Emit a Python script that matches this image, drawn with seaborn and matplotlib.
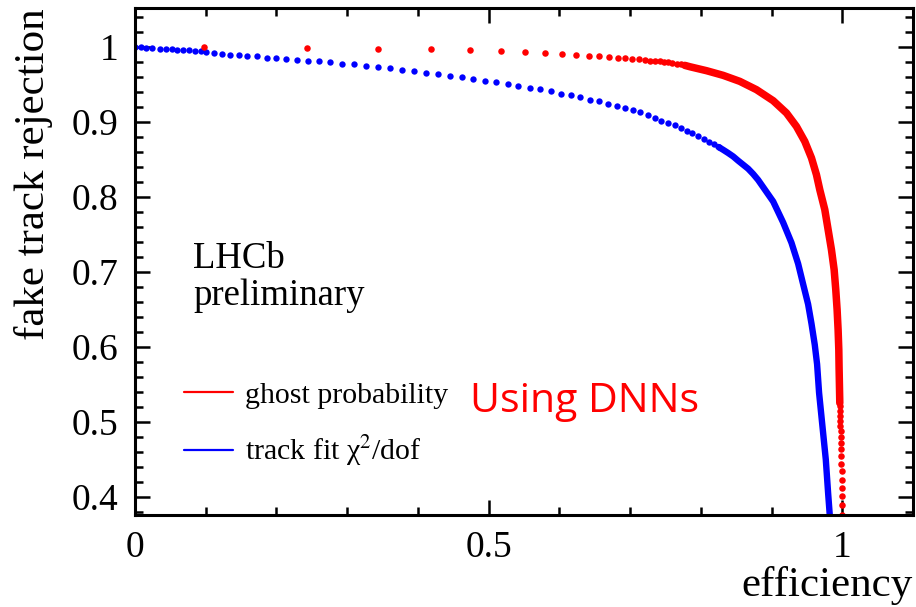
import matplotlib
matplotlib.use("Agg")
import matplotlib.pyplot as plt
import pandas as pd
import seaborn as sns
from matplotlib.lines import Line2D
from matplotlib.ticker import MultipleLocator, FormatStrFormatter

# track fit chi2/dof: sparse dots, then the dense part drawn as a thick line
chi2_dot_x = [0.0, 0.008, 0.016, 0.024, 0.035, 0.044, 0.052, 0.060, 0.068, 0.076, 0.085, 0.093,
              0.101, 0.112, 0.123, 0.135, 0.147, 0.159, 0.172, 0.186, 0.200, 0.214,
              0.229, 0.244, 0.260, 0.276, 0.293, 0.309, 0.326, 0.344, 0.360, 0.377,
              0.394, 0.411, 0.429, 0.445, 0.462, 0.478, 0.495, 0.511, 0.527, 0.542,
              0.558, 0.573, 0.588, 0.602, 0.616, 0.629, 0.643, 0.656, 0.669, 0.681,
              0.693, 0.704, 0.714, 0.725, 0.735, 0.744, 0.754, 0.763, 0.772, 0.780,
              0.788, 0.796, 0.804, 0.811, 0.818, 0.825]
chi2_dot_y = [1.000, 0.9995, 0.999, 0.9985, 0.998, 0.9973, 0.997, 0.9964, 0.996, 0.9955, 0.995, 0.9942,
              0.993, 0.992, 0.991, 0.990, 0.989, 0.988, 0.9875, 0.986, 0.985, 0.984,
              0.983, 0.982, 0.981, 0.980, 0.978, 0.977, 0.975, 0.973, 0.9715, 0.970,
              0.968, 0.966, 0.964, 0.962, 0.9595, 0.957, 0.955, 0.953, 0.9505, 0.948,
              0.946, 0.9435, 0.941, 0.938, 0.9355, 0.933, 0.930, 0.9275, 0.924, 0.922,
              0.919, 0.9155, 0.913, 0.9092, 0.905, 0.902, 0.899, 0.8955, 0.892, 0.888,
              0.885, 0.881, 0.8777, 0.874, 0.8706, 0.8667]
chi2_line_x = [0.825, 0.8315, 0.8386, 0.8457, 0.8528, 0.8598, 0.8669, 0.874, 0.881,
               0.9023, 0.9164, 0.9282, 0.9376, 0.9446, 0.9517, 0.9565, 0.9611, 0.9644,
               0.9672, 0.972, 0.9767, 0.980, 0.9823]
chi2_line_y = [0.8667, 0.863, 0.8587, 0.8541, 0.8484, 0.8431, 0.8377, 0.8307, 0.8228,
               0.794, 0.766, 0.739, 0.711, 0.684, 0.657, 0.631, 0.603, 0.577,
               0.539, 0.494, 0.450, 0.405, 0.376]

# ghost probability
ghost_dot_x = [0.0975, 0.2426, 0.3439, 0.4179, 0.4735, 0.5169, 0.5517, 0.580, 0.6035,
               0.6233, 0.6413, 0.6563, 0.670, 0.6823, 0.6931, 0.703, 0.712, 0.7205,
               0.728, 0.735, 0.7417, 0.7478, 0.7538, 0.7595, 0.7657, 0.7714, 0.7774]
ghost_dot_y = [1.000, 0.9987, 0.9977, 0.9968, 0.9955, 0.9942, 0.9928, 0.9915, 0.9902,
               0.9893, 0.9884, 0.9875, 0.9867, 0.9857, 0.9848, 0.984, 0.9835, 0.9826,
               0.9817, 0.9813, 0.9808, 0.980, 0.9795, 0.9786, 0.9777, 0.9768, 0.9755]
ghost_line_x = [0.7774, 0.7845, 0.8081, 0.8316, 0.8551, 0.8787, 0.9023, 0.9211, 0.9352,
                0.947, 0.9565, 0.9635, 0.9682, 0.9753, 0.980, 0.9847, 0.9885, 0.9908,
                0.9927, 0.9941, 0.9951, 0.9955, 0.9965]
ghost_line_y = [0.9755, 0.9737, 0.9684, 0.9622, 0.9542, 0.9431, 0.9284, 0.912, 0.8941,
                0.8741, 0.852, 0.8297, 0.8097, 0.7831, 0.7564, 0.7297, 0.7031, 0.6764,
                0.6497, 0.6231, 0.5964, 0.572, 0.5253]
ghost_tail_x = [0.9966, 0.9968, 0.9970, 0.9972, 0.9974, 0.9976, 0.9978, 0.9981, 0.9983,
                0.9986, 0.9988, 0.9991, 0.9993, 0.9995, 0.9998, 1.0000, 1.0002]
ghost_tail_y = [0.5208, 0.5141, 0.5075, 0.5008, 0.4941, 0.4875, 0.480, 0.472, 0.464,
                0.4541, 0.4444, 0.4341, 0.4231, 0.412, 0.4008, 0.3888, 0.3764]

RED = "#ff0000"
BLUE = "#0000ff"

sns.set_theme(style="ticks")
plt.rcParams["font.family"] = ["Liberation Serif", "DejaVu Serif"]
plt.rcParams["mathtext.fontset"] = "stix"
for key in ["text.color", "axes.labelcolor", "xtick.color", "ytick.color", "axes.edgecolor"]:
    plt.rcParams[key] = "black"

fig = plt.figure(figsize=(9.16, 6.07), dpi=100)
ax = fig.add_axes([135 / 916, 92 / 607, 778 / 916, 507 / 607])

chi2_dots = pd.DataFrame({"x": chi2_dot_x, "y": chi2_dot_y})
chi2_line = pd.DataFrame({"x": chi2_line_x, "y": chi2_line_y})
ghost_dots = pd.DataFrame({"x": ghost_dot_x + ghost_tail_x, "y": ghost_dot_y + ghost_tail_y})
ghost_line = pd.DataFrame({"x": ghost_line_x, "y": ghost_line_y})

sns.lineplot(data=chi2_line, x="x", y="y", sort=False, estimator=None, color=BLUE,
             lw=4.6, solid_capstyle="round", solid_joinstyle="round", ax=ax)
sns.scatterplot(data=chi2_dots, x="x", y="y", color=BLUE, s=21, linewidth=0, ax=ax)
sns.lineplot(data=ghost_line, x="x", y="y", sort=False, estimator=None, color=RED,
             lw=5.4, solid_capstyle="round", solid_joinstyle="round", ax=ax)
sns.scatterplot(data=ghost_dots, x="x", y="y", color=RED, s=22, linewidth=0, ax=ax)

ax.set_xlim(0, 1.1)
ax.set_ylim(0.376, 1.052)

ax.xaxis.set_major_locator(MultipleLocator(0.5))
ax.xaxis.set_minor_locator(MultipleLocator(0.1))
ax.yaxis.set_major_locator(MultipleLocator(0.1))
ax.yaxis.set_minor_locator(MultipleLocator(0.02))
ax.xaxis.set_major_formatter(FormatStrFormatter("%g"))
ax.yaxis.set_major_formatter(FormatStrFormatter("%g"))

ax.tick_params(which="both", direction="in", top=True, right=True, width=1.8, colors="black")
ax.tick_params(which="major", length=11, labelsize=27)
ax.tick_params(which="minor", length=5.5)
ax.tick_params(axis="x", which="major", pad=11)
ax.tick_params(axis="y", which="major", pad=12)
for s in ax.spines.values():
    s.set_linewidth(2.2)
    s.set_color("black")

ax.set_xlabel("efficiency", fontsize=31, loc="right")
ax.xaxis.set_label_coords(1.0, -0.1)
ax.set_ylabel("fake track rejection", fontsize=31, loc="top")
ax.yaxis.set_label_coords(-0.105, 1.0)

ax.text(0.0746, 0.487, "LHCb", transform=ax.transAxes, fontsize=26.5, va="baseline")
ax.text(0.0746, 0.414, "preliminary", transform=ax.transAxes, fontsize=26.5, va="baseline")
ax.text((470 - 135) / 778, (515 - 412) / 507, "Using DNNs", transform=ax.transAxes,
        fontsize=29.5, color=RED, family=["Open Sans", "DejaVu Sans"], va="baseline")

handles = [Line2D([], [], color=RED, lw=1.6), Line2D([], [], color=BLUE, lw=1.6)]
ax.legend(handles, ["ghost probability", "track fit χ$^{2}$/dof"], loc="upper left",
          bbox_to_anchor=(0.063, 0.263), frameon=False, fontsize=21.5, borderpad=0,
          borderaxespad=0, handlelength=1.65, handletextpad=0.4, labelspacing=0.85)

fig.savefig("out.png", dpi=100)
